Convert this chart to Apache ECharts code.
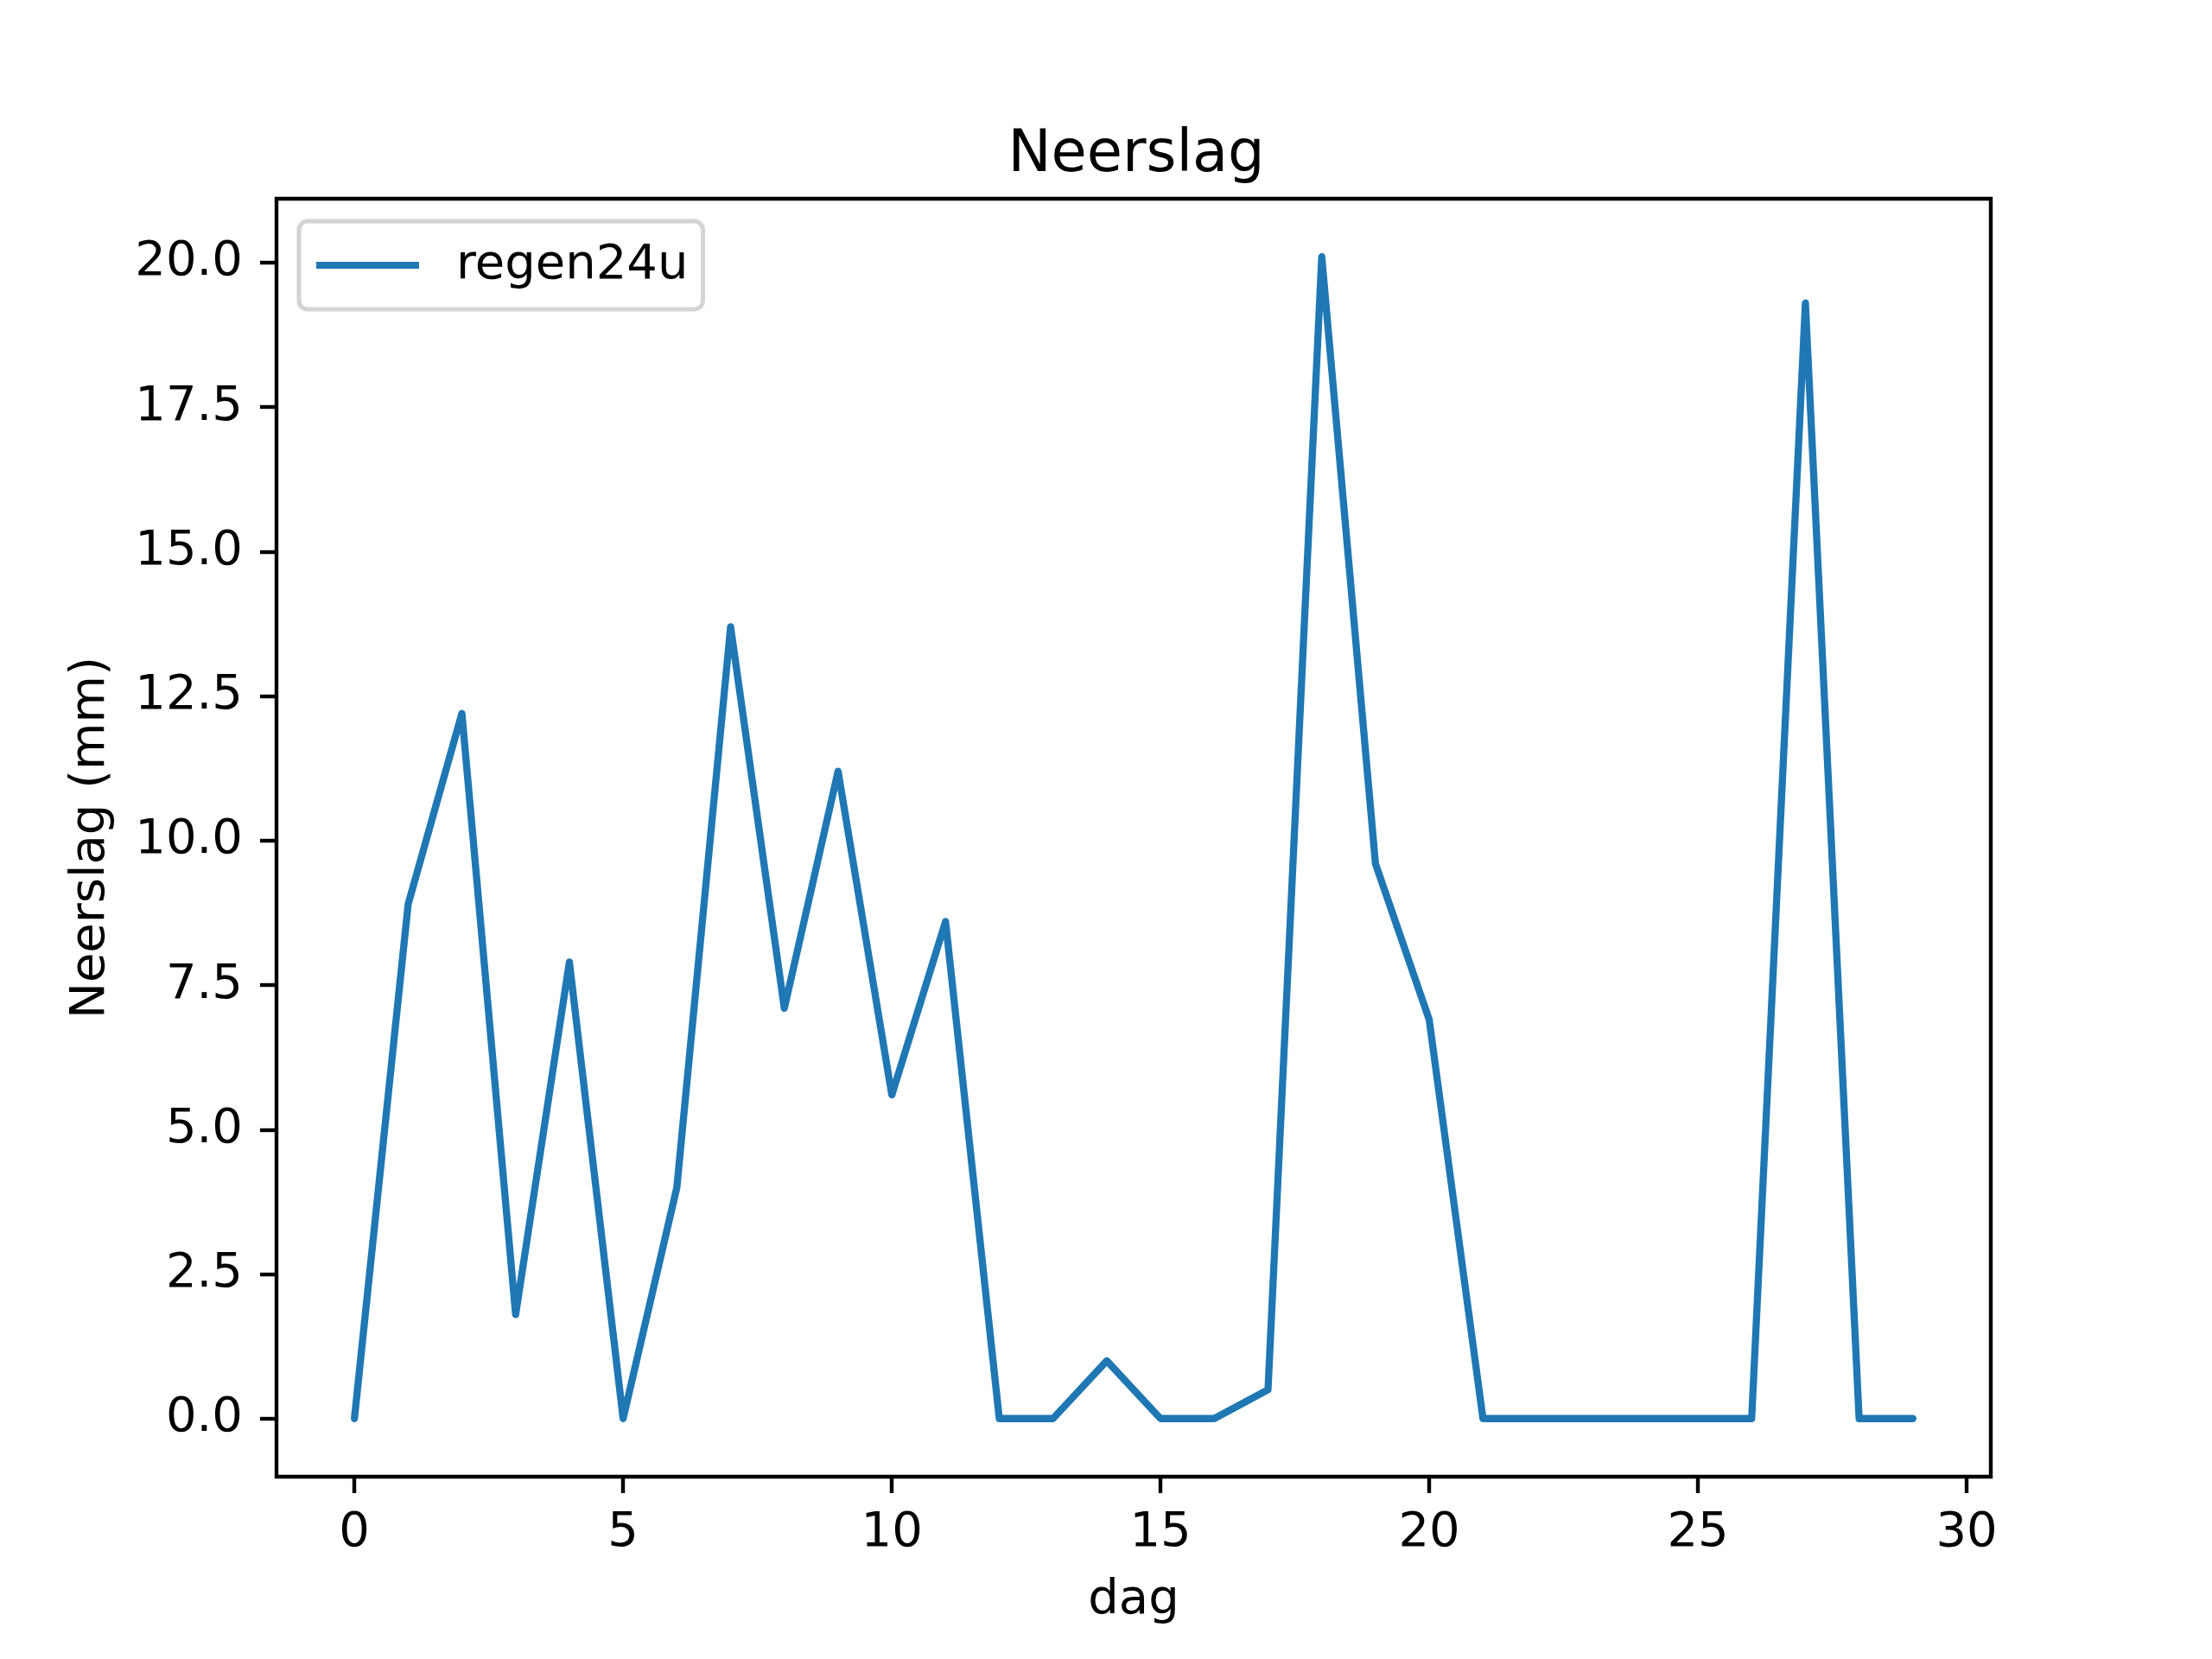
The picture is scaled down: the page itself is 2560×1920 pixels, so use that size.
<!DOCTYPE html>
<html>
<head>
<meta charset="utf-8">
<title>Neerslag</title>
<script src="https://cdn.jsdelivr.net/npm/echarts@6/dist/echarts.min.js"></script>
<style>
    html, body { margin: 0; padding: 0; background: #fff; }
    #chart { width: 2560px; height: 1920px; }
</style>
</head>
<body>
<div id="chart"></div>
<script>
// dag 0..29
var dagen = [0, 1, 2, 3, 4, 5, 6, 7, 8, 9, 10, 11, 12, 13, 14, 15, 16, 17, 18, 19, 20, 21, 22, 23, 24, 25, 26, 27, 28, 29];
// regen24u (mm)
var regen24u = [0, 8.9, 12.2, 1.8, 7.9, 0, 4.0, 13.7, 7.1, 11.2, 5.6, 8.6, 0, 0, 1.0, 0, 0, 0.5, 20.1, 9.6, 6.9, 0, 0, 0, 0, 0, 0, 19.3, 0, 0];
var xTicks = [0, 5, 10, 15, 20, 25, 30];
var yTicks = [0, 2.5, 5, 7.5, 10, 12.5, 15, 17.5, 20];

var font = 'DejaVu Sans';
var chart = echarts.init(document.getElementById('chart'), null, {renderer: 'canvas', devicePixelRatio: 1});

var punten = dagen.map(function (d, i) { return [d, regen24u[i]]; });

var option = {
    animation: false,
    backgroundColor: '#fff',
    textStyle: { fontFamily: font },
    title: {
        text: 'Neerslag',
        left: 1310,
        textAlign: 'center',
        top: 142,
        textStyle: { fontFamily: font, fontSize: 67, fontWeight: 'normal', color: '#000' }
    },
    legend: {
        left: 346,
        top: 256,
        orient: 'vertical',
        icon: 'rect',
        itemWidth: 119,
        itemHeight: 8,
        padding: [21, 17, 21, 20],
        borderColor: '#d4d4d4',
        borderWidth: 5,
        borderRadius: 10,
        backgroundColor: 'rgba(255,255,255,0.8)',
        textStyle: { fontFamily: font, fontSize: 56, color: '#000', lineHeight: 60, padding: [0, 0, 0, 38] },
        data: ['regen24u']
    },
    grid: {
        left: 320,
        right: 256,
        top: 230,
        bottom: 211,
        show: true,
        borderColor: '#000',
        borderWidth: 4.4,
        backgroundColor: 'transparent'
    },
    xAxis: {
        type: 'value',
        min: -1.45,
        max: 30.45,
        name: 'dag',
        nameLocation: 'middle',
        nameGap: 115,
        nameTextStyle: { fontFamily: font, fontSize: 56, color: '#000' },
        axisLine: { show: false, onZero: false },
        splitLine: { show: false },
        axisTick: {
            show: true,
            customValues: xTicks,
            length: 19,
            lineStyle: { color: '#000', width: 4.4 }
        },
        axisLabel: {
            customValues: xTicks,
            margin: 37,
            fontFamily: font,
            fontSize: 56,
            color: '#000'
        }
    },
    yAxis: {
        type: 'value',
        min: -1.005,
        max: 21.105,
        name: 'Neerslag (mm)',
        nameLocation: 'middle',
        nameRotate: 90,
        nameGap: 187,
        nameTextStyle: { fontFamily: font, fontSize: 56, color: '#000' },
        axisLine: { show: false, onZero: false },
        splitLine: { show: false },
        axisTick: {
            show: true,
            customValues: yTicks,
            length: 19,
            lineStyle: { color: '#000', width: 4.4 }
        },
        axisLabel: {
            customValues: yTicks,
            margin: 39,
            fontFamily: font,
            fontSize: 56,
            color: '#000',
            padding: [10, 0, 0, 0],
            formatter: function (v) { return v.toFixed(1); }
        }
    },
    series: [{
        name: 'regen24u',
        type: 'line',
        data: punten,
        showSymbol: false,
        symbol: 'none',
        itemStyle: { color: '#1f77b4' },
        lineStyle: { color: '#1f77b4', width: 8.3, cap: 'round', join: 'round' }
    }]
};
chart.setOption(option);
</script>
</body>
</html>
